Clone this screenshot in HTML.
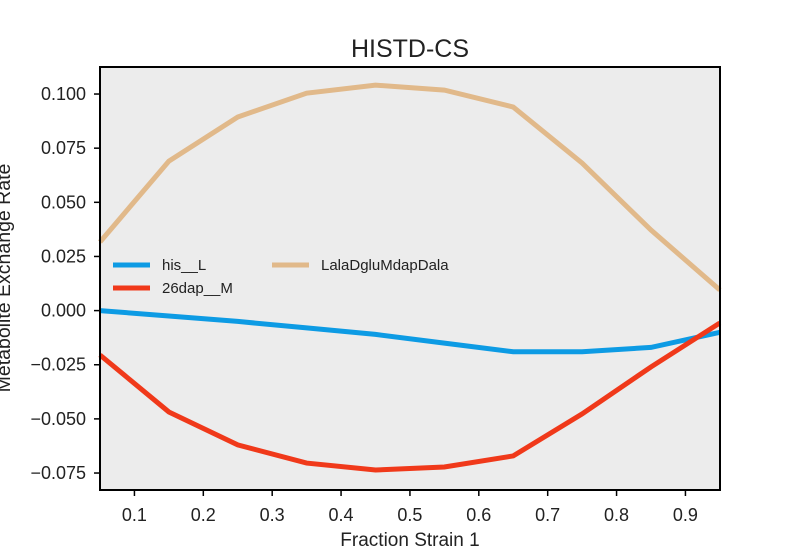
<!DOCTYPE html>
<html><head><meta charset="utf-8"><style>
body{margin:0;background:#fff;}
svg{display:block;font-family:"Liberation Sans",sans-serif;}
</style></head><body>
<svg id="chart" width="800" height="550">
<rect x="0" y="0" width="800" height="550" fill="#fff"/>
<rect x="100" y="67" width="620" height="423" fill="#ececec"/>
<g id="series"></g>
<rect x="100" y="67" width="620" height="423" fill="none" stroke="#000" stroke-width="2"/>
<g id="axes"></g>
<text x="410" y="57" font-size="25" text-anchor="middle" fill="#222">HISTD-CS</text>
<text x="410" y="546" font-size="19" text-anchor="middle" fill="#222">Fraction Strain 1</text>
<text transform="translate(10,278) rotate(-90)" font-size="19.5" text-anchor="middle" fill="#222">Metabolite Exchange Rate</text>
<g font-size="15" fill="#222">
<line x1="113" y1="265" x2="150" y2="265" stroke="#0d9be4" stroke-width="5"/>
<text x="162" y="270">his__L</text>
<line x1="113" y1="288" x2="150" y2="288" stroke="#f0391a" stroke-width="5"/>
<text x="162" y="293">26dap__M</text>
<line x1="272" y1="265" x2="309" y2="265" stroke="#e1b98a" stroke-width="5"/>
<text x="321" y="270">LalaDgluMdapDala</text>
</g>
</svg>
<script>
const xValues=[0.05,0.15,0.25,0.35,0.45,0.55,0.65,0.75,0.85,0.95];
const hisL=[0,-0.0025,-0.005,-0.008,-0.011,-0.015,-0.019,-0.019,-0.017,-0.010];
const dap26=[-0.0205,-0.0468,-0.062,-0.0704,-0.0736,-0.0722,-0.0671,-0.0477,-0.026,-0.0057];
const lala=[0.0317,0.069,0.0894,0.1004,0.1041,0.1018,0.0940,0.0681,0.0372,0.0095];
const xTicks=[0.1,0.2,0.3,0.4,0.5,0.6,0.7,0.8,0.9];
const yTicks=[0.100,0.075,0.050,0.025,0.000,-0.025,-0.050,-0.075];
const yTickLabels=["0.100","0.075","0.050","0.025","0.000","\u22120.025","\u22120.050","\u22120.075"];
const NS="http://www.w3.org/2000/svg";
function sx(v){return 100+(v-0.05)*688.75;}
function sy(v){return 310.6-v*2165.7;}
const seriesG=document.getElementById('series');
const axesG=document.getElementById('axes');
function drawLine(vals,color,name){
  const p=document.createElementNS(NS,'polyline');
  p.setAttribute('points',vals.map((v,i)=>sx(xValues[i])+','+sy(v)).join(' '));
  p.setAttribute('fill','none');p.setAttribute('stroke',color);p.setAttribute('stroke-width','5');
  
  
  seriesG.appendChild(p);
}
drawLine(lala,'#e1b98a','line-laladglumdapdala');
drawLine(hisL,'#0d9be4','line-his-l');
drawLine(dap26,'#f0391a','line-26dap-m');
xTicks.forEach(t=>{
  const x=sx(t);
  const l=document.createElementNS(NS,'line');
  l.setAttribute('x1',x);l.setAttribute('x2',x);l.setAttribute('y1',490);l.setAttribute('y2',496);
  l.setAttribute('stroke','#000');l.setAttribute('stroke-width','1.5');
  
  
  axesG.appendChild(l);
  const tx=document.createElementNS(NS,'text');
  tx.setAttribute('x',x);tx.setAttribute('y',521);tx.setAttribute('text-anchor','middle');
  tx.setAttribute('font-size','18');tx.setAttribute('fill','#222');
  tx.textContent=t.toFixed(1);
  
  
  axesG.appendChild(tx);
});
yTicks.forEach((t,i)=>{
  const y=sy(t);
  const l=document.createElementNS(NS,'line');
  l.setAttribute('x1',94);l.setAttribute('x2',100);l.setAttribute('y1',y);l.setAttribute('y2',y);
  l.setAttribute('stroke','#000');l.setAttribute('stroke-width','1.5');
  
  
  axesG.appendChild(l);
  const tx=document.createElementNS(NS,'text');
  tx.setAttribute('x',86);tx.setAttribute('y',y+6);tx.setAttribute('text-anchor','end');
  tx.setAttribute('font-size','18');tx.setAttribute('fill','#222');
  tx.textContent=yTickLabels[i];
  
  
  axesG.appendChild(tx);
});
</script>
</body></html>
